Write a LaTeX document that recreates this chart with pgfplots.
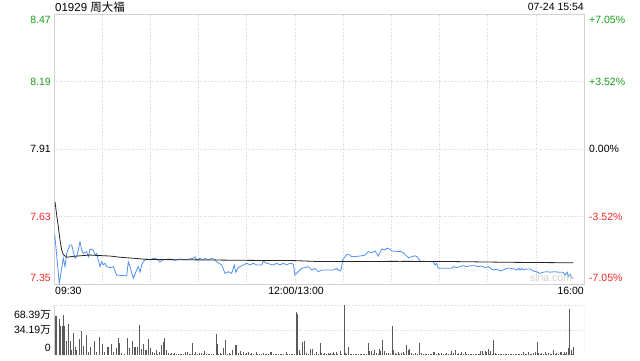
\documentclass[border=0pt]{standalone}
\usepackage{pgfplots}
\pgfplotsset{compat=1.18}
\usepackage{fontspec}
\setmainfont{Liberation Sans}
\newfontfamily\cjk{Noto Sans CJK SC}
\definecolor{upg}{RGB}{26,160,26}
\definecolor{dnr}{RGB}{240,40,40}
\definecolor{pblue}{RGB}{80,145,240}
\definecolor{gridc}{RGB}{212,212,212}
\definecolor{bordc}{RGB}{210,210,210}
\definecolor{volc}{RGB}{90,90,90}
\begin{document}
\begin{tikzpicture}
\useasboundingbox[fill=white] (0pt,0pt) rectangle (640pt,360pt);
% ---------------- price panel
\begin{axis}[at={(54pt,76pt)}, anchor=south west, width=530pt, height=270pt, scale only axis,
  xmin=0, xmax=330, ymin=7.35, ymax=8.47,
  axis line style={bordc, line width=0.8pt},
  xtick={30,60,...,300}, xticklabels={},
  ytick={7.63,7.91,8.19}, yticklabels={},
  major tick length=0pt,
  grid=major, major grid style={gridc, dotted, line width=0.6pt}]
\addplot[pblue, line width=0.8pt] coordinates {
(0.44,7.556) (3.30,7.353) (5.79,7.457) (6.85,7.422) (7.91,7.477) (9.96,7.512) (11.02,7.512) (12.02,7.484) (13.08,7.457) (14.13,7.463) (15.13,7.491) (16.19,7.525) (17.25,7.491) (18.24,7.477) (20.36,7.484) (21.36,7.463) (22.42,7.495) (24.47,7.491) (25.53,7.470) (26.59,7.477) (27.58,7.450) (28.64,7.422) (29.70,7.442) (30.70,7.430) (31.75,7.436) (32.81,7.422) (34.87,7.418) (36.92,7.422) (39.04,7.387) (45.27,7.384) (46.26,7.442) (47.32,7.422) (49.37,7.374) (51.49,7.408) (52.49,7.422) (53.55,7.399) (54.60,7.429) (55.60,7.442) (56.66,7.450) (57.71,7.454) (59.77,7.450) (61.83,7.457) (63.94,7.454) (66.00,7.442) (67.87,7.450) (72.23,7.454) (75.34,7.448) (78.45,7.454) (81.57,7.450) (84.68,7.454) (86.73,7.457) (87.79,7.463) (88.85,7.450) (90.90,7.457) (92.96,7.450) (94.02,7.457) (96.07,7.450) (98.19,7.457) (100.24,7.450) (101.30,7.442) (104.42,7.429) (106.47,7.394) (108.53,7.401) (110.64,7.394) (112.26,7.429) (113.13,7.399) (114.75,7.418) (117.86,7.429) (119.98,7.436) (122.04,7.429) (124.09,7.436) (126.21,7.429) (129.32,7.429) (130.32,7.445) (132.44,7.436) (136.54,7.429) (138.66,7.436) (140.71,7.429) (142.77,7.436) (144.89,7.429) (146.94,7.436) (149.00,7.433) (150.06,7.387) (152.11,7.401) (154.23,7.415) (156.28,7.418) (158.34,7.422) (160.45,7.408) (162.51,7.415) (164.56,7.401) (166.68,7.408) (169.79,7.408) (173.90,7.408) (176.02,7.415) (177.01,7.408) (178.07,7.404) (178.88,7.412) (179.75,7.450) (181.19,7.463) (182.24,7.473) (184.30,7.470) (185.36,7.463) (190.52,7.466) (193.64,7.470) (195.70,7.484) (197.81,7.480) (199.87,7.487) (200.93,7.477) (201.92,7.466) (204.04,7.495) (206.10,7.491) (207.15,7.498) (209.21,7.495) (210.27,7.487) (216.49,7.484) (218.55,7.473) (220.60,7.459) (222.72,7.463) (224.77,7.467) (226.20,7.463) (227.88,7.445) (236.16,7.442) (237.22,7.429) (238.28,7.436) (239.27,7.415) (247.62,7.415) (248.62,7.422) (250.73,7.418) (252.79,7.422) (254.84,7.426) (256.96,7.422) (259.01,7.426) (262.13,7.426) (264.18,7.422) (266.30,7.425) (268.36,7.418) (270.41,7.422) (272.53,7.412) (273.53,7.408) (275.64,7.412) (277.70,7.404) (279.75,7.408) (281.87,7.415) (283.93,7.415) (287.04,7.412) (288.10,7.408) (289.09,7.415) (290.15,7.408) (291.21,7.415) (292.20,7.408) (294.32,7.412) (296.37,7.412) (298.43,7.404) (300.54,7.401) (302.60,7.394) (304.65,7.399) (306.77,7.401) (308.83,7.399) (311.94,7.401) (313.99,7.399) (317.11,7.399) (318.16,7.387) (319.59,7.399) (320.22,7.380) (321.28,7.391) (322.34,7.376) (323.33,7.374)};
\addplot[black!85, line width=0.8pt] coordinates {
(0.62,7.691) (1.68,7.636) (2.68,7.588) (3.74,7.533) (4.79,7.491) (5.79,7.472) (7.91,7.461) (11.02,7.464) (14.13,7.466) (22.42,7.470) (28.64,7.468) (34.87,7.466) (41.09,7.461) (49.19,7.457) (57.71,7.452) (90.90,7.450) (122.04,7.448) (150.06,7.447) (165.62,7.443) (181.19,7.443) (215.43,7.444) (249.67,7.443) (283.0,7.440) (323.33,7.438)};
\end{axis}
% ---------------- volume panel
\begin{axis}[at={(54pt,5pt)}, anchor=south west, width=530pt, height=50pt, scale only axis,
  xmin=0, xmax=330, ymin=0, ymax=68.39,
  axis line style={draw=none},
  xtick=\empty, ytick={34.19,68.39}, yticklabels={},
  major tick length=0pt,
  ymajorgrids, major grid style={gridc, dotted, line width=0.8pt}]
\draw[bordc, line width=0.8pt] (rel axis cs:0,0) -- (rel axis cs:0,1);
\draw[bordc, line width=0.8pt] (rel axis cs:1,0) -- (rel axis cs:1,1);
\addplot[ycomb, volc, line width=0.9pt] coordinates {
(0.6,53.3) (1.7,53.3) (3.1,48.8) (4.1,39.7) (5.2,39.7) (5.8,54.7) (6.8,39.7) (7.9,19.6) (8.9,42.4) (10.0,19.6) (10.6,6.8) (12.0,30.6) (13.1,11.4) (14.1,6.8) (15.6,21.9) (16.8,33.3) (18.3,12.8) (19.9,27.8) (21.4,4.6) (23.0,11.4) (25.1,19.2) (26.6,4.6) (28.0,25.1) (28.6,11.4) (30.1,15) (31.7,4.6) (33.2,11.4) (34.2,11.4) (35.7,15) (36.9,4.6) (38.6,9.1) (40.1,23.3) (40.7,16.9) (42.1,2.3) (43.6,1.4) (45.7,23.3) (46.9,9.1) (48.8,19.6) (49.8,11.4) (50.9,11.4) (51.9,11.4) (52.9,41) (53.5,11.4) (54.6,7.8) (55.6,15) (56.7,6.8) (57.7,6.8) (58.9,21.4) (60.2,9.1) (61.2,4.6) (62.3,2.3) (63.5,6.8) (64.5,2) (65.6,4.6) (66.6,13.7) (68.1,18.2) (68.7,22.8) (70.2,6.8) (71.2,3.2) (72.3,2) (73.3,2.3) (74.3,1.5) (75.3,2.3) (76.4,1.5) (77.4,1.5) (78.5,2) (79.5,2) (80.8,1.5) (82.0,4.6) (83.0,3.6) (84.1,1.5) (85.1,2) (86.1,16.9) (87.2,2) (88.2,3.6) (89.3,1.5) (90.3,2.3) (91.9,2.3) (92.8,1.5) (93.6,5.5) (95.0,2) (96.0,1.5) (97.1,1.5) (98.1,2) (99.2,2) (100.9,28.7) (101.7,15) (102.6,2) (103.4,3.2) (104.4,1.5) (105.8,9.1) (106.9,20.5) (108.0,2) (109.0,2.3) (110.1,1.5) (111.2,6.8) (112.7,13.7) (113.3,13.7) (114.8,3.2) (116.2,5.9) (117.0,2) (117.9,4.6) (119.0,2) (120.0,3.2) (121.0,4.6) (122.1,2) (123.1,3.2) (124.4,1.5) (125.8,3.6) (126.8,2) (127.8,2) (129.2,1.5) (130.3,2.5) (131.4,1.5) (132.4,2) (133.4,1.5) (134.5,3.6) (135.5,3.6) (136.6,1.5) (137.6,2) (138.6,1.5) (139.7,1.5) (140.7,2) (141.8,2) (143.0,1.5) (144.5,3.6) (145.5,1.5) (146.5,1.5) (147.6,2) (148.6,2) (149.6,1.5) (150.7,59.3) (151.3,56.1) (152.8,6.8) (153.7,2) (154.6,18.2) (155.9,19.6) (157.3,3.2) (158.5,2) (159.8,8.2) (160.8,8.2) (162.1,2) (163.5,4.6) (164.5,2) (165.6,16.9) (166.6,3.2) (167.7,1.5) (168.7,2.3) (169.7,1.5) (170.8,3.2) (171.5,1.5) (172.3,3.2) (173.1,1.5) (173.9,3.6) (174.8,2) (175.6,4.6) (176.7,1.5) (178.1,5.9) (179.2,1.5) (180.8,68.4) (181.6,3.2) (182.4,1.5) (183.3,11.4) (184.3,1.5) (185.3,2) (186.4,1.5) (187.4,1.5) (188.5,2) (189.5,2) (190.5,1.5) (191.6,1.5) (192.6,2) (193.6,2) (194.6,1.5) (195.7,16.9) (196.3,5.9) (197.8,5.9) (198.6,2) (199.5,6.8) (200.9,3.2) (201.8,1.5) (202.6,8.7) (203.4,5.9) (204.6,20.5) (205.7,5.9) (207.1,3.2) (208.2,3.2) (209.4,1.5) (210.6,39.7) (211.3,6.8) (212.3,2.3) (213.4,1.5) (214.4,3.6) (215.3,1.5) (216.1,2.3) (217.5,4.6) (218.4,1.5) (219.2,13.7) (220.6,6.8) (221.3,7.8) (222.7,2.3) (223.8,1.5) (224.8,2.3) (226.1,1.5) (227.5,16.9) (229.0,2.3) (230.0,1.5) (231.0,1.5) (232.1,2) (233.1,2) (234.2,1.5) (235.2,2) (236.2,3.6) (236.8,3.6) (238.2,1.5) (239.3,3.2) (240.3,1.5) (241.4,2.3) (242.5,1.5) (243.5,2) (244.5,3.2) (245.6,1.5) (246.6,2) (247.6,5.9) (248.7,3.2) (250.1,6.8) (251.0,1.5) (251.8,3.2) (252.8,2) (253.8,4.6) (254.9,1.5) (255.9,3.6) (257.0,1.5) (258.0,2) (259.0,1.5) (260.0,2) (261.1,1.5) (262.1,1.5) (263.2,2) (264.2,2) (265.0,1.5) (265.8,5.9) (266.9,5.9) (267.6,2) (268.4,5.9) (269.4,4.6) (270.5,8.2) (271.2,2) (271.9,5.9) (272.8,2) (273.6,20.5) (274.6,3.2) (275.7,1.5) (276.7,2) (277.8,1.5) (278.8,1.5) (279.8,2) (280.8,2) (281.9,1.5) (282.9,1.5) (284.0,2) (285.0,2) (286.0,1.5) (287.1,1.5) (288.1,2) (289.1,2) (290.1,1.5) (291.2,2) (292.2,4.6) (293.3,1.5) (294.3,2) (295.3,3.6) (296.4,1.5) (297.4,2) (298.5,3.2) (299.5,4.6) (301.0,18.2) (301.6,3.2) (302.7,1.5) (303.7,3.2) (304.7,1.5) (305.8,4.6) (306.8,2) (307.8,3.2) (308.8,1.5) (309.9,2) (310.9,6.8) (312.0,1.5) (313.0,3.2) (314.0,2) (315.1,4.6) (316.1,3.6) (317.0,2) (317.8,4.6) (318.5,2) (319.2,4.6) (320.3,9.1) (320.9,62.9) (321.9,6.8) (322.6,2) (323.4,11.4)};
\end{axis}
% ---------------- texts
\begin{scope}[every node/.style={inner sep=0pt, font=\fontsize{10.5}{12}\selectfont}]
\node[anchor=west, font=\fontsize{11.5}{12}\selectfont] at (55pt,353pt) {01929 {\cjk 周大福}};
\node[anchor=east] at (584pt,353.5pt) {07-24 15:54};
\node[anchor=east, text=upg] at (51pt,340.5pt) {8.47};
\node[anchor=east, text=upg] at (51pt,278.5pt) {8.19};
\node[anchor=east, text=black] at (51pt,211pt) {7.91};
\node[anchor=east, text=dnr] at (51pt,143.5pt) {7.63};
\node[anchor=east, text=dnr] at (51pt,82pt) {7.35};
\node[anchor=west, text=upg] at (589pt,340pt) {+7.05\%};
\node[anchor=west, text=upg] at (589pt,278.5pt) {+3.52\%};
\node[anchor=west, text=black] at (589pt,211pt) {0.00\%};
\node[anchor=west, text=dnr] at (589pt,143.5pt) {-3.52\%};
\node[anchor=west, text=dnr] at (589pt,82pt) {-7.05\%};
\node[anchor=west] at (55pt,69pt) {09:30};
\node[anchor=center] at (296pt,69pt) {12:00/13:00};
\node[anchor=east] at (584pt,69pt) {16:00};
\node[anchor=east] at (51pt,45pt) {68.39{\cjk 万}};
\node[anchor=east] at (51pt,30pt) {34.19{\cjk 万}};
\node[anchor=east] at (51pt,12pt) {0};
\node[text=black!18] at (551pt,82pt) {sina.com};
\end{scope}
\end{tikzpicture}
\end{document}
